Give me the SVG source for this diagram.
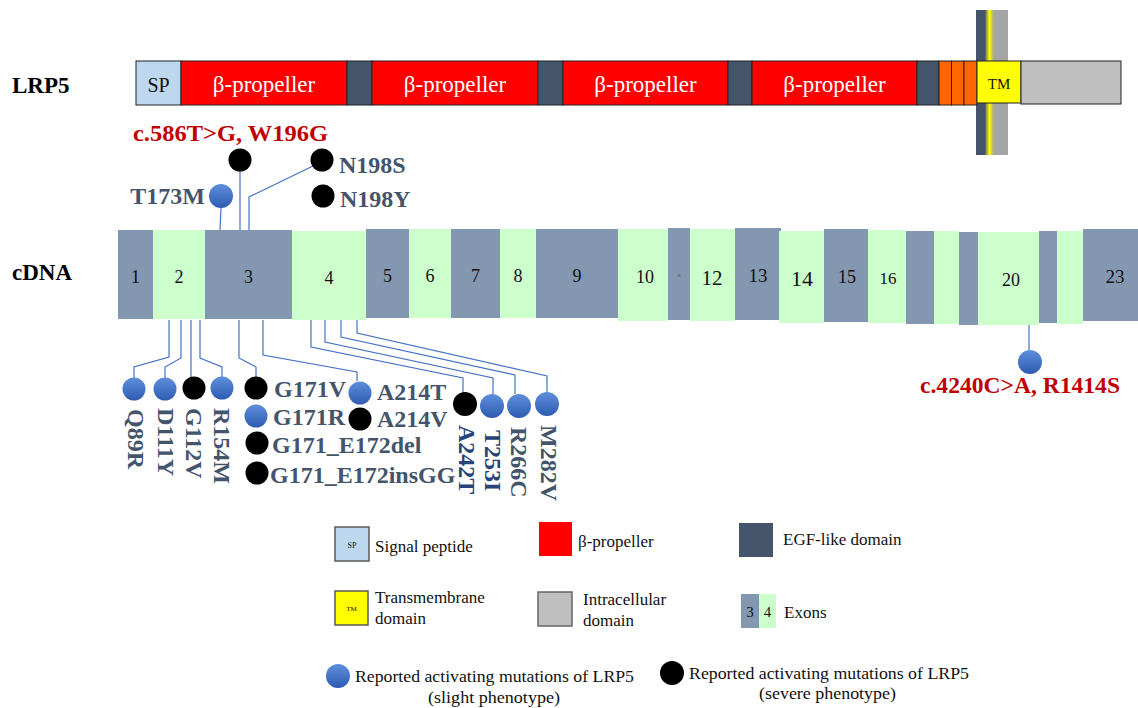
<svg xmlns="http://www.w3.org/2000/svg" width="1138" height="708" viewBox="0 0 1138 708">
<defs>
<linearGradient id="blueG" x1="0" y1="0" x2="0" y2="1">
<stop offset="0" stop-color="#5E8FDB"/>
<stop offset="1" stop-color="#2E5BB2"/>
</linearGradient>
<linearGradient id="stripeG" x1="0" y1="0" x2="1" y2="0">
<stop offset="0" stop-color="#44546A"/>
<stop offset="0.28" stop-color="#44546A"/>
<stop offset="0.33" stop-color="#9A9A40"/>
<stop offset="0.42" stop-color="#FFFF00"/>
<stop offset="0.5" stop-color="#C8C84A"/>
<stop offset="0.56" stop-color="#A5A5A5"/>
<stop offset="1" stop-color="#A5A5A5"/>
</linearGradient>
</defs>
<style>
.seg{stroke:#222;stroke-width:1}
.prop{fill:#FF0000}
.egf{fill:#44546A}
.org{fill:#FF6600}
.ptxt{font-family:"Liberation Serif",serif;font-size:23px;fill:#fff;text-anchor:middle}
.title{font-family:"Liberation Serif",serif;font-size:23px;font-weight:bold;fill:#000}
.exD{fill:#8497B0}
.exL{fill:#CCFFCC}
.exn{font-family:"Liberation Serif",serif;fill:#111;text-anchor:middle}
.mut{font-family:"Liberation Serif",serif;font-size:24px;font-weight:bold;fill:#44546A}
.navy{fill:#264478}
.red{fill:#C00000}
.blue{fill:url(#blueG)}
.blk{fill:#000}
.con{fill:none;stroke:#4472C4;stroke-width:1.2}
.leg{font-family:"Liberation Serif",serif;font-size:17px;fill:#111}
</style>
<rect width="1138" height="708" fill="#fff"/>

<text class="title" x="12" y="93">LRP5</text>
<text class="title" x="12" y="280">cDNA</text>

<g id="protein">
<rect x="976" y="10" width="32" height="145" fill="url(#stripeG)"/>
<rect class="seg" x="136" y="61" width="45" height="44" fill="#BDD7EE"/>
<text x="158.5" y="92" font-family="Liberation Serif,serif" font-size="20" text-anchor="middle" fill="#111">SP</text>
<rect class="seg prop" x="181" y="61" width="166" height="44"/>
<text class="ptxt" x="264" y="92">β-propeller</text>
<rect class="seg egf" x="347" y="61" width="25" height="44"/>
<rect class="seg prop" x="372" y="61" width="166" height="44"/>
<text class="ptxt" x="455" y="92">β-propeller</text>
<rect class="seg egf" x="538" y="61" width="25" height="44"/>
<rect class="seg prop" x="563" y="61" width="165" height="44"/>
<text class="ptxt" x="645.5" y="92">β-propeller</text>
<rect class="seg egf" x="728" y="61" width="24" height="44"/>
<rect class="seg prop" x="752" y="61" width="165" height="44"/>
<text class="ptxt" x="834.5" y="92">β-propeller</text>
<rect class="seg egf" x="917" y="61" width="22" height="44"/>
<rect class="seg org" x="939" y="61" width="12.5" height="44"/>
<rect class="seg org" x="951.5" y="61" width="12.5" height="44"/>
<rect class="seg org" x="964" y="61" width="13" height="44"/>
<rect class="seg" x="977" y="61" width="44" height="42" fill="#FFFF00"/>
<text x="999" y="89" font-family="Liberation Serif,serif" font-size="15" text-anchor="middle" fill="#111">TM</text>
<rect class="seg" x="1021" y="61" width="100" height="43" fill="#BFBFBF" stroke="#555"/>
</g>

<g id="exons">
<g id="ex1"><rect class="exD" x="118" y="230" width="35" height="89"/><text class="exn" x="135.5" y="283" font-size="19">1</text></g>
<g id="ex2"><rect class="exL" x="153" y="230" width="52" height="89"/><text class="exn" x="179" y="283" font-size="18">2</text></g>
<g id="ex3"><rect class="exD" x="205" y="230" width="87" height="89"/><text class="exn" x="248.5" y="283" font-size="18">3</text></g>
<g id="ex4"><rect class="exL" x="292" y="231" width="74" height="89"/><text class="exn" x="329" y="284" font-size="18">4</text></g>
<g id="ex5"><rect class="exD" x="366" y="229" width="43" height="89"/><text class="exn" x="387.5" y="282" font-size="18">5</text></g>
<g id="ex6"><rect class="exL" x="409" y="229" width="42" height="89"/><text class="exn" x="430" y="282" font-size="18">6</text></g>
<g id="ex7"><rect class="exD" x="451" y="229" width="49" height="89"/><text class="exn" x="475.5" y="282" font-size="18">7</text></g>
<g id="ex8"><rect class="exL" x="500" y="229" width="36" height="89"/><text class="exn" x="518" y="282" font-size="18">8</text></g>
<g id="ex9"><rect class="exD" x="536" y="229" width="82" height="89"/><text class="exn" x="577" y="282" font-size="18">9</text></g>
<g id="ex10"><rect class="exL" x="618" y="229" width="50" height="92"/><text class="exn" x="645" y="283" font-size="18">10</text></g>
<g id="ex11"><rect class="exD" x="668" y="228" width="22" height="92"/><text class="exn" x="679" y="277" font-size="3">11</text></g>
<g id="ex12"><rect class="exL" x="690" y="229" width="45" height="92"/><text class="exn" x="712" y="285" font-size="21">12</text></g>
<g id="ex13"><rect class="exD" x="735" y="228" width="46" height="92"/><text class="exn" x="758" y="282" font-size="19">13</text></g>
<g id="ex14"><rect class="exL" x="779" y="231" width="45" height="92"/><text class="exn" x="802" y="286" font-size="22">14</text></g>
<g id="ex15"><rect class="exD" x="824" y="229" width="44" height="93"/><text class="exn" x="847" y="283" font-size="18">15</text></g>
<g id="ex16"><rect class="exL" x="868" y="230" width="38" height="93"/><text class="exn" x="888" y="284" font-size="17">16</text></g>
<g id="ex17"><rect class="exD" x="906" y="231" width="28" height="93"/></g>
<g id="ex18"><rect class="exL" x="934" y="231" width="25" height="93"/></g>
<g id="ex19"><rect class="exD" x="959" y="232" width="19" height="93"/></g>
<g id="ex20"><rect class="exL" x="978" y="232" width="61" height="93"/><text class="exn" x="1011" y="286" font-size="18">20</text></g>
<g id="ex21"><rect class="exD" x="1039" y="231" width="18" height="92"/></g>
<g id="ex22"><rect class="exL" x="1057" y="231" width="26" height="93"/></g>
<g id="ex23"><rect class="exD" x="1083" y="229" width="55" height="92"/><text class="exn" x="1115" y="283" font-size="19">23</text></g>
</g>

<g id="connectors">
<polyline class="con" points="240,171 240,230"/>
<polyline class="con" points="313,166 249,197 249,230"/>
<polyline class="con" points="221,208 220,230"/>
<polyline class="con" points="169,320 169,357 134,367 134,378"/>
<polyline class="con" points="181,320 181,358 165,367 165,378"/>
<polyline class="con" points="191,320 191,377"/>
<polyline class="con" points="200,320 200,358 222,367 222,377"/>
<polyline class="con" points="239,320 239,358 256,367 256,377"/>
<polyline class="con" points="263,320 263,355 357,372 357,381"/>
<polyline class="con" points="311,320 311,347 463,378 463,393"/>
<polyline class="con" points="325,320 325,342 493,378 493,394"/>
<polyline class="con" points="341,320 341,337 515,375 515,394"/>
<polyline class="con" points="357,320 357,333 547,376 547,392"/>
<polyline class="con" points="1029,325 1029,350"/>
</g>

<g id="m-W196G"><circle class="blk" cx="240" cy="160" r="11.5"/><text class="mut red" x="133" y="141" textLength="195" lengthAdjust="spacingAndGlyphs">c.586T&gt;G, W196G</text></g>
<g id="m-N198S"><circle class="blk" cx="322" cy="160" r="11.5"/><text class="mut" x="339" y="173">N198S</text></g>
<g id="m-N198Y"><circle class="blk" cx="323" cy="196" r="11.5"/><text class="mut" x="340" y="207">N198Y</text></g>
<g id="m-T173M"><circle class="blue" cx="221" cy="196" r="12"/><text class="mut" x="205" y="204" text-anchor="end" fill="#2A4F86">T173M</text></g>

<g id="m-Q89R"><circle class="blue" cx="134" cy="389" r="11.5"/><text class="mut" font-size="23" transform="translate(128,409) rotate(90)">Q89R</text></g>
<g id="m-D111Y"><circle class="blue" cx="165" cy="389" r="11.5"/><text class="mut" font-size="23" transform="translate(158,408) rotate(90)">D111Y</text></g>
<g id="m-G112V"><circle class="blk" cx="194" cy="388" r="11.5"/><text class="mut" font-size="23" transform="translate(186,408) rotate(90)">G112V</text></g>
<g id="m-R154M"><circle class="blue" cx="222" cy="388" r="11.5"/><text class="mut" font-size="23" transform="translate(214,408) rotate(90)">R154M</text></g>

<g id="m-G171V"><circle class="blk" cx="256" cy="388" r="11.5"/><text class="mut" x="274" y="397">G171V</text></g>
<g id="m-G171R"><circle class="blue" cx="256" cy="416" r="11.5"/><text class="mut" x="273" y="425">G171R</text></g>
<g id="m-G171del"><circle class="blk" cx="257" cy="443" r="11.5"/><text class="mut" x="272" y="453">G171_E172del</text></g>
<g id="m-G171ins"><circle class="blk" cx="257" cy="473" r="11.5"/><text class="mut" x="270" y="483">G171_E172insGG</text></g>
<g id="m-A214T"><circle class="blue" cx="360" cy="393" r="11.5"/><text class="mut" x="377" y="400">A214T</text></g>
<g id="m-A214V"><circle class="blk" cx="360" cy="419" r="11.5"/><text class="mut" x="377" y="427">A214V</text></g>

<g id="m-A242T"><circle class="blk" cx="465" cy="404" r="12"/><text class="mut navy" font-size="23" transform="translate(459,425) rotate(90)">A242T</text></g>
<g id="m-T253I"><circle class="blue" cx="492" cy="406" r="12"/><text class="mut navy" font-size="23" transform="translate(485,430) rotate(90)">T253I</text></g>
<g id="m-R266C"><circle class="blue" cx="519" cy="406" r="12"/><text class="mut" font-size="23" transform="translate(511,427) rotate(90)">R266C</text></g>
<g id="m-M282V"><circle class="blue" cx="547" cy="404" r="12"/><text class="mut" font-size="23" transform="translate(541,425) rotate(90)">M282V</text></g>

<g id="m-R1414S"><circle class="blue" cx="1030" cy="362" r="12"/><text class="mut red" x="920" y="393" textLength="200" lengthAdjust="spacingAndGlyphs">c.4240C&gt;A, R1414S</text></g>

<g id="legend">
<g id="leg-sp"><rect x="335" y="527" width="34" height="34" fill="#BDD7EE" stroke="#595959" stroke-width="1.5"/><text x="352" y="548" font-family="Liberation Serif,serif" font-size="8" text-anchor="middle" fill="#111">SP</text><text class="leg" x="375" y="552">Signal  peptide</text></g>
<g id="leg-prop"><rect x="539" y="522" width="33" height="34" fill="#FF0000"/><text class="leg" x="578" y="547">β-propeller</text></g>
<g id="leg-egf"><rect x="739" y="523" width="34" height="34" fill="#44546A"/><text class="leg" x="783" y="545">EGF-like domain</text></g>
<g id="leg-tm"><rect x="335" y="591" width="33" height="34" fill="#FFFF00" stroke="#595959" stroke-width="1.5"/><text x="351.5" y="611" font-family="Liberation Serif,serif" font-size="7" text-anchor="middle" fill="#111">TM</text><text class="leg" x="375" y="603">Transmembrane</text><text class="leg" x="375" y="624">domain</text></g>
<g id="leg-intra"><rect x="538" y="592" width="34" height="34" fill="#BFBFBF" stroke="#666" stroke-width="1.5"/><text class="leg" x="583" y="605">Intracellular</text><text class="leg" x="583" y="626">domain</text></g>
<g id="leg-exon"><rect x="741" y="594" width="18" height="34" fill="#8497B0"/><rect x="759" y="594" width="17" height="34" fill="#CCFFCC"/><text x="750" y="617" font-family="Liberation Serif,serif" font-size="15" text-anchor="middle" fill="#111">3</text><text x="767.5" y="617" font-family="Liberation Serif,serif" font-size="15" text-anchor="middle" fill="#111">4</text><text class="leg" x="784" y="618">Exons</text></g>
<g id="leg-slight"><circle class="blue" cx="338" cy="676" r="12"/><text class="leg" x="355" y="682" textLength="279" lengthAdjust="spacingAndGlyphs">Reported activating  mutations  of LRP5</text><text class="leg" x="428" y="703" textLength="132" lengthAdjust="spacingAndGlyphs">(slight phenotype)</text></g>
<g id="leg-severe"><circle class="blk" cx="672" cy="673" r="12"/><text class="leg" x="689" y="679" textLength="280" lengthAdjust="spacingAndGlyphs">Reported activating  mutations  of LRP5</text><text class="leg" x="759" y="699" textLength="137" lengthAdjust="spacingAndGlyphs">(severe phenotype)</text></g>
</g>
</svg>
